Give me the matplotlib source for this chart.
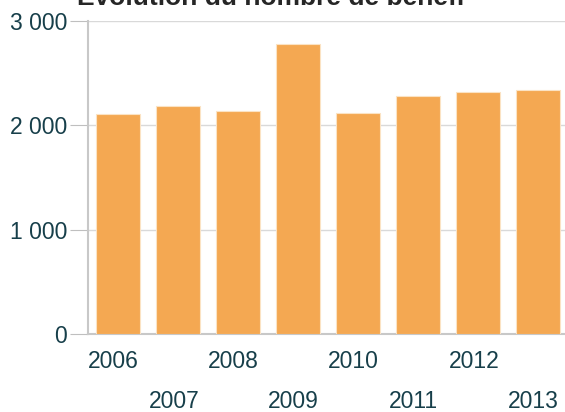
import matplotlib
matplotlib.use("Agg")
import matplotlib.pyplot as plt
import matplotlib.transforms as mtransforms

plt.rcParams["font.family"] = ["Liberation Sans", "DejaVu Sans"]

TITLE  = "Évolution du nombre de bénéfi"
years  = ["2006", "2007", "2008", "2009", "2010", "2011", "2012", "2013"]
counts = [2106, 2186, 2137, 2782, 2118, 2279, 2320, 2343]
y_ticks  = [0, 1000, 2000, 3000]
y_labels = ["0", "1 000", "2 000", "3 000"]

BAR_COLOR  = "#F4A852"
TEXT_COLOR = "#173f4a"
GRID_COLOR = "#d9d9d9"

fig = plt.figure(figsize=(5.65, 4.12), dpi=100)
W, H = 565, 412
ax = fig.add_axes([88 / W, (H - 334) / H, (568 - 88) / W, (334 - 21) / H])

x = list(range(len(years)))
ax.bar(x, counts, width=0.73, color=BAR_COLOR, edgecolor="#fbe3c4", linewidth=0.8, zorder=3)

ax.set_xlim(-0.5, len(years) - 0.5)
ax.set_ylim(0, 3000)
ax.set_yticks(y_ticks)
ax.set_yticklabels(y_labels, fontsize=16.5, color=TEXT_COLOR)
ax.tick_params(axis="y", length=13, color="#bfbfbf", pad=2)
ax.grid(axis="y", color=GRID_COLOR, linewidth=1, zorder=0)
ax.set_axisbelow(True)

ax.set_xticks([])
for s in ["top", "right"]:
    ax.spines[s].set_visible(False)
ax.spines["left"].set_color("#c8c8c8")
ax.spines["left"].set_linewidth(1.5)
ax.spines["bottom"].set_color("#c8c8c8")
ax.spines["bottom"].set_linewidth(1.5)

# staggered year labels
trans = mtransforms.blended_transform_factory(ax.transData, fig.transFigure)
for i, yr in enumerate(years):
    ypix = 362 if i % 2 == 0 else 402
    ax.text(i - 0.07, 1 - ypix / H, yr, transform=trans, ha="center", va="center",
            fontsize=16.5, color=TEXT_COLOR, clip_on=False)

# title, mostly cut off at the top of the image
fig.text(77 / W, 1 - 5 / H, TITLE, ha="left", va="baseline",
         fontsize=19, fontweight="bold", color="#262626")

fig.savefig("out.png", dpi=100)
